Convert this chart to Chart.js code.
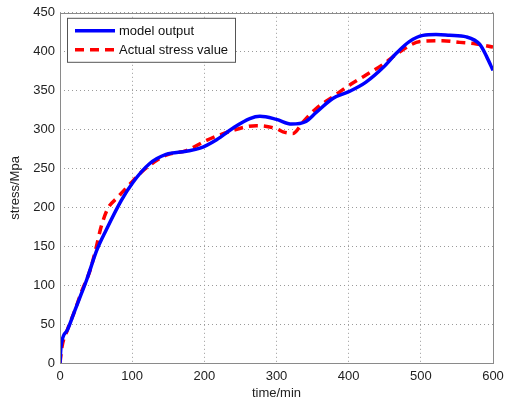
<!DOCTYPE html>
<html>
<head>
<meta charset="utf-8">
<script src="https://cdn.jsdelivr.net/npm/chart.js@4.4.1/dist/chart.umd.min.js"></script>
<style>
body{margin:0;background:#fff;}
#wrap{width:507px;height:401px;}
</style>
</head>
<body>
<div id="wrap"><canvas id="stressChart" width="507" height="401"></canvas></div>
<script>
// model output curve
const modelTime=[0,1.5,10,20,30,37,51,64,85,101,124,147,175,194,217,240,263,277,300,321,340,355,378,401,424,448,466,484,503,521,540,563,582,591,600];
const modelStress=[0,22,42,66,90,107,145,171,209,232,256,268,272,276,287,302,314,317,313,307,310,322,340,349,361,380,398,413,421,422,421,419,409,394,376];

// measured (actual) stress
const actualTime=[0,3,10,20,30,42,50,57,66,80,97,115,147,175,203,240,272,300,309,323,337,355,378,401,424,448,471,499,530,554,577,600];
const actualStress=[0,22,42,66,92,120,148,175,198,213,230,247,267,273,286,299,305,301,297,295,310,327,342,357,370,384,400,413,414,412,410,406];

const xTicks=[0,100,200,300,400,500,600];
const yTicks=[0,50,100,150,200,250,300,350,400,450];

const toPoints=(xs,ys)=>xs.map((x,i)=>({x:x,y:ys[i]}));

const FONT='"Liberation Sans", Arial, sans-serif';

const frame={
id:'frame',
afterDraw(chart){
const c=chart.ctx, a=chart.chartArea;
c.save();
c.strokeStyle='#8a8a8a';
c.lineWidth=1;
c.strokeRect(Math.round(a.left)+0.5,Math.round(a.top)+0.5,Math.round(a.right-a.left),Math.round(a.bottom-a.top));
// axis titles
c.fillStyle='#222';
c.font='13px '+FONT;
c.textAlign='center';
c.textBaseline='middle';
c.fillText('time/min',(a.left+a.right)/2,393);
c.save();
c.translate(15,(a.top+a.bottom)/2);
c.rotate(-Math.PI/2);
c.fillText('stress/Mpa',0,0);
c.restore();
// legend box
const bx=a.left+7, by=a.top+5, bw=168, bh=44;
c.fillStyle='#fff';
c.fillRect(bx,by,bw,bh);
c.strokeStyle='#555';
c.strokeRect(bx+0.5,by+0.5,bw,bh);
c.textAlign='left';
chart.data.datasets.forEach((ds,i)=>{
const ly=by+13+i*19;
c.strokeStyle=ds.borderColor;
c.lineWidth=ds.borderWidth;
c.setLineDash(ds.borderDash||[]);
c.beginPath();
c.moveTo(bx+8,ly);
c.lineTo(bx+48,ly);
c.stroke();
c.setLineDash([]);
c.fillStyle='#111';
c.fillText(ds.label,bx+52,ly+1);
});
c.restore();
}
};

new Chart(document.getElementById('stressChart'),{
type:'line',
data:{
datasets:[
{
label:'model output',
data:toPoints(modelTime,modelStress),
borderColor:'#0000ff',
borderWidth:3.5,
pointRadius:0,
cubicInterpolationMode:'monotone',
fill:false
},
{
label:'Actual stress value',
data:toPoints(actualTime,actualStress),
borderColor:'#ff0000',
borderWidth:3.5,
borderDash:[9,6],
pointRadius:0,
cubicInterpolationMode:'monotone',
fill:false
}
]
},
options:{
responsive:false,
animation:false,
events:[],
layout:{padding:{top:6,right:14,left:0,bottom:0}},
plugins:{legend:{display:false},tooltip:{enabled:false}},
scales:{
x:{
type:'linear',
min:0,max:600,
afterBuildTicks:s=>{s.ticks=xTicks.map(v=>({value:v}));},
afterFit:s=>{s.height=38;s.paddingLeft=0;s.paddingRight=0;},
grid:{color:'#9a9a9a',lineWidth:1,drawTicks:false},
border:{display:false,dash:[1,3]},
ticks:{color:'#222',font:{family:FONT,size:13},padding:6,maxRotation:0}
},
y:{
min:0,max:450,
afterBuildTicks:s=>{s.ticks=yTicks.map(v=>({value:v}));},
afterFit:s=>{s.width=60;},
grid:{color:'#9a9a9a',lineWidth:1,drawTicks:false},
border:{display:false,dash:[1,3]},
ticks:{color:'#222',font:{family:FONT,size:13},padding:5}
}
}
},
plugins:[frame]
});
</script>
</body>
</html>
